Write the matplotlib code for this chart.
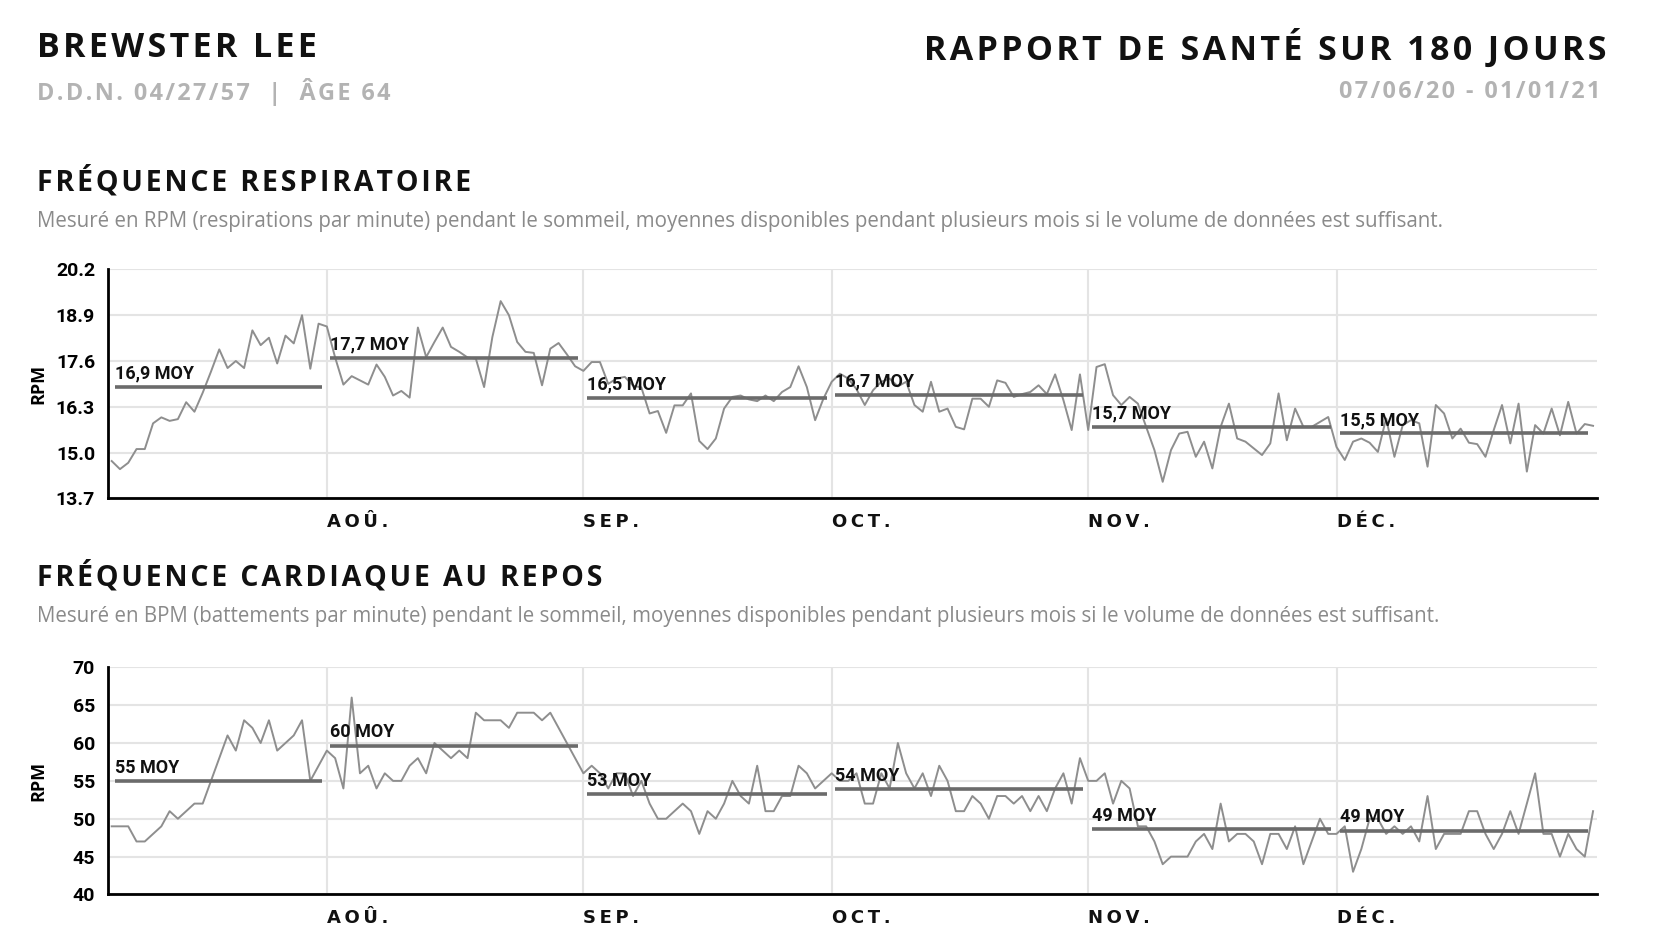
import numpy as np
import matplotlib
matplotlib.use("Agg")
import matplotlib.pyplot as plt

# one reading per night, 07/06/20 -> 01/01/21
dates = np.arange(np.datetime64("2020-07-06"), np.datetime64("2021-01-02"))

# respiratory rate (RPM), by month
resp_jul = [14.76, 14.53, 14.71, 15.1, 15.1, 15.83, 16.0, 15.9, 15.95, 16.43, 16.16, 16.7, 17.3,
            17.93, 17.4, 17.6, 17.4, 18.47, 18.05, 18.26, 17.53, 18.32, 18.1, 18.9, 17.38, 18.66]
resp_aug = [18.58, 17.7, 16.93, 17.17, 17.05, 16.93, 17.5, 17.15, 16.62, 16.75, 16.56, 18.55, 17.71,
            18.14, 18.55, 18.0, 17.86, 17.7, 17.67, 16.86, 18.28, 19.3, 18.9, 18.14, 17.86, 17.83,
            16.91, 17.95, 18.11, 17.79, 17.45]
resp_sep = [17.32, 17.57, 17.57, 16.95, 17.1, 17.15, 16.9, 16.85, 16.11, 16.18, 15.56, 16.34, 16.34,
            16.68, 15.33, 15.1, 15.4, 16.25, 16.58, 16.62, 16.51, 16.46, 16.62, 16.46, 16.72, 16.86,
            17.45, 16.86, 15.92, 16.53]
resp_oct = [17.01, 17.24, 17.1, 16.8, 16.35, 16.77, 17.01, 17.1, 16.88, 17.01, 16.35, 16.16, 17.01,
            16.16, 16.25, 15.73, 15.66, 16.53, 16.53, 16.3, 17.05, 16.98, 16.58, 16.66, 16.72, 16.91,
            16.66, 17.22, 16.49, 15.64, 17.22]
resp_nov = [15.64, 17.43, 17.51, 16.63, 16.35, 16.58, 16.39, 15.73, 15.07, 14.17, 15.07, 15.54, 15.59,
            14.88, 15.31, 14.55, 15.73, 16.39, 15.4, 15.31, 15.12, 14.93, 15.26, 16.68, 15.35, 16.25,
            15.73, 15.73, 15.87, 16.01]
resp_dec = [15.16, 14.79, 15.31, 15.4, 15.28, 15.02, 15.97, 14.88, 15.78, 15.92, 15.83, 14.6, 16.35,
            16.11, 15.4, 15.68, 15.28, 15.24, 14.88, 15.64, 16.35, 15.26, 16.39, 14.46, 15.78, 15.54,
            16.25, 15.49, 16.44, 15.54, 15.81, 15.76]

# resting heart rate (BPM), by month
hr_jul = [49, 49, 49, 47, 47, 48, 49, 51, 50, 51, 52, 52, 55, 58, 61, 59, 63, 62, 60, 63, 59, 60, 61, 63,
          55, 57]
hr_aug = [59, 58, 54, 66, 56, 57, 54, 56, 55, 55, 57, 58, 56, 60, 59, 58, 59, 58, 64, 63, 63, 63, 62, 64,
          64, 64, 63, 64, 62, 60, 58]
hr_sep = [56, 57, 56, 54, 56, 56, 53, 55, 52, 50, 50, 51, 52, 51, 48, 51, 50, 52, 55, 53, 52, 57, 51, 51,
          53, 53, 57, 56, 54, 55]
hr_oct = [56, 55, 55, 56, 52, 52, 56, 54, 60, 56, 54, 56, 53, 57, 55, 51, 51, 53, 52, 50, 53, 53, 52, 53,
          51, 53, 51, 54, 56, 52, 58]
hr_nov = [55, 55, 56, 52, 55, 54, 49, 49, 47, 44, 45, 45, 45, 47, 48, 46, 52, 47, 48, 48, 47, 44, 48, 48,
          46, 49, 44, 47, 50, 48]
hr_dec = [48, 49, 43, 46, 50, 50, 48, 49, 48, 49, 47, 53, 46, 48, 48, 48, 51, 51, 48, 46, 48, 51, 48, 52,
          56, 48, 48, 45, 48, 46, 45, 51]

resp = np.array(resp_jul + resp_aug + resp_sep + resp_oct + resp_nov + resp_dec)
hr = np.array(hr_jul + hr_aug + hr_sep + hr_oct + hr_nov + hr_dec)

seg_bounds = np.array(["2020-07-06", "2020-08-01", "2020-09-01", "2020-10-01", "2020-11-01",
                       "2020-12-01", "2021-01-01"], dtype="datetime64[D]")
month_ticks = seg_bounds[1:6]
month_labels = ["AOÛ.", "SEP.", "OCT.", "NOV.", "DÉC."]

resp_avg_labels = ["16,9 MOY", "17,7 MOY", "16,5 MOY", "16,7 MOY", "15,7 MOY", "15,5 MOY"]
hr_avg_labels = ["55 MOY", "60 MOY", "53 MOY", "54 MOY", "49 MOY", "49 MOY"]

resp_ticks = [13.7, 15.0, 16.3, 17.6, 18.9, 20.2]
hr_ticks = [40, 45, 50, 55, 60, 65, 70]

TITLE_FONT = ["Open Sans", "DejaVu Sans"]
NUM_FONT = ["Roboto", "DejaVu Sans"]

fig = plt.figure(figsize=(16.7, 9.52), dpi=100)
fig.patch.set_facecolor("white")


def spaced(s, sep="\u2009"):
    return sep.join(s)


def draw_panel(ax, values, ticks, avg_labels):
    ax.plot(dates, values, color="#8e8e8e", lw=1.4, zorder=3)
    for i in range(len(seg_bounds) - 1):
        mask = (dates >= seg_bounds[i]) & (dates < seg_bounds[i + 1])
        m = values[mask].mean()
        start = seg_bounds[i].astype("datetime64[h]") + np.timedelta64(10, "h")
        end = seg_bounds[i + 1].astype("datetime64[h]") - np.timedelta64(15, "h")
        ax.plot([start, end], [m, m], color="#6b6b6b", lw=2.6, zorder=4, solid_capstyle="butt")
        ax.annotate(avg_labels[i], xy=(start, m), xytext=(0, 6), textcoords="offset points",
                    ha="left", va="baseline", fontsize=13, fontweight="bold",
                    family=NUM_FONT, color="#111111", zorder=5)

    ax.set_xlim(np.datetime64("2020-07-05T12"), np.datetime64("2021-01-01T12"))
    ax.set_ylim(ticks[0], ticks[-1])
    ax.set_yticks(ticks)
    ax.set_xticks(month_ticks)
    ax.set_xticklabels([])
    ax.tick_params(length=0, pad=9)
    for lab in ax.get_yticklabels():
        lab.set_fontfamily(NUM_FONT)
        lab.set_fontweight("bold")
        lab.set_fontsize(14)
    ax.grid(True, color="#e4e4e4", lw=1.5)
    ax.set_axisbelow(True)
    for s in ["top", "right"]:
        ax.spines[s].set_visible(False)
    for s in ["left", "bottom"]:
        ax.spines[s].set_linewidth(2)
        ax.spines[s].set_color("black")
        ax.spines[s].set_zorder(6)
    for d, lab in zip(month_ticks, month_labels):
        ax.annotate(spaced(lab), xy=(d, 0), xycoords=("data", "axes fraction"),
                    xytext=(0, -17), textcoords="offset points", ha="left", va="center",
                    fontsize=13, fontweight="bold", family=["DejaVu Sans"], color="#111111")


ax1 = fig.add_axes([0.0644, 0.4765, 0.892, 0.2405])
draw_panel(ax1, resp, resp_ticks, resp_avg_labels)
ax1.set_yticklabels([f"{t:.1f}" for t in resp_ticks])

ax2 = fig.add_axes([0.0644, 0.0604, 0.892, 0.2387])
draw_panel(ax2, hr, hr_ticks, hr_avg_labels)

for ax in (ax1, ax2):
    pos = ax.get_position()
    fig.text(0.023, pos.y0 + pos.height / 2, "RPM", rotation=90, ha="center", va="center",
             fontsize=13, fontweight="bold", family=TITLE_FONT)

HS = "\u200a"  # hair space for the tracking of the headings

# header
fig.text(0.0223, 0.9497, spaced("BREWSTER LEE", HS), fontsize=24.5, fontweight="bold",
         family=TITLE_FONT, ha="left", va="center", color="#111111")
fig.text(0.0223, 0.9038, spaced("D.D.N. 04/27/57", HS) + "   |   " + spaced("ÂGE 64", HS),
         fontsize=16.8, fontweight="bold", family=TITLE_FONT, ha="left", va="center",
         color="#b3b3b3")
fig.text(0.9617, 0.9497, spaced("RAPPORT DE SANTÉ SUR 180 JOURS", HS), fontsize=24.5,
         fontweight="bold", family=TITLE_FONT, ha="right", va="center", color="#111111")
fig.text(0.9585, 0.9038, spaced("07/06/20 - 01/01/21", HS), fontsize=16.8, fontweight="bold",
         family=TITLE_FONT, ha="right", va="center", color="#b3b3b3")

fig.text(0.0223, 0.8087, spaced("FRÉQUENCE RESPIRATOIRE", HS), fontsize=20.5, fontweight="bold",
         family=TITLE_FONT, ha="left", va="center", color="#111111")
fig.text(0.0223, 0.7673, "Mesuré en RPM (respirations par minute) pendant le sommeil, moyennes "
         "disponibles pendant plusieurs mois si le volume de données est suffisant.",
         fontsize=14.8, family=TITLE_FONT, ha="left", va="center", color="#8a8a8a")

fig.text(0.0223, 0.3937, spaced("FRÉQUENCE CARDIAQUE AU REPOS", HS), fontsize=20.5,
         fontweight="bold", family=TITLE_FONT, ha="left", va="center", color="#111111")
fig.text(0.0223, 0.3523, "Mesuré en BPM (battements par minute) pendant le sommeil, moyennes "
         "disponibles pendant plusieurs mois si le volume de données est suffisant.",
         fontsize=14.8, family=TITLE_FONT, ha="left", va="center", color="#8a8a8a")

fig.savefig("out.png", dpi=100, facecolor="white")
